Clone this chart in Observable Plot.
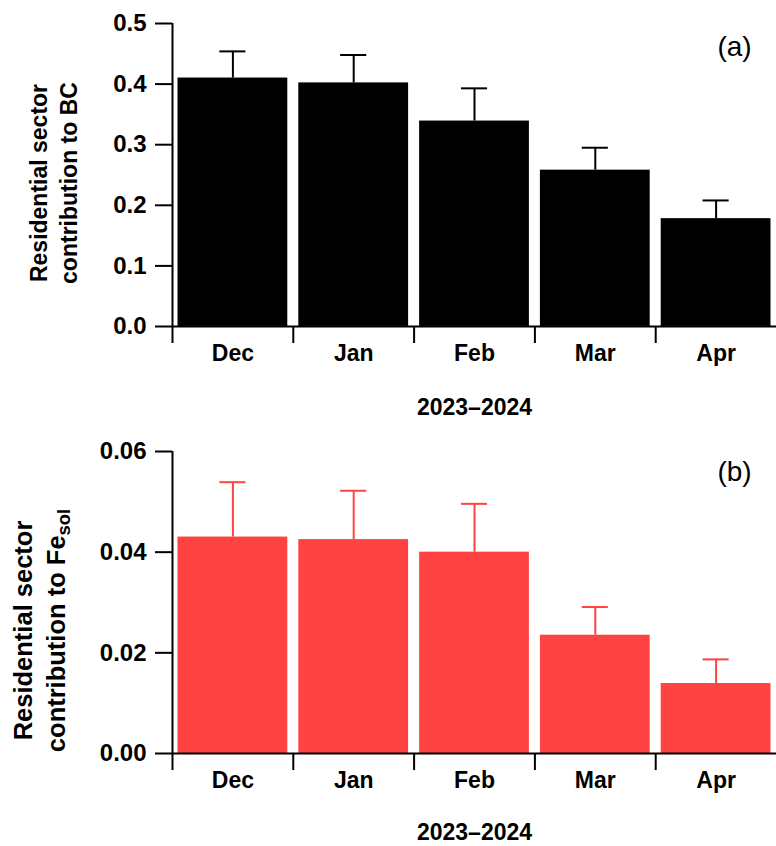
<!DOCTYPE html>
<html><head><meta charset="utf-8">
<script src="https://cdn.jsdelivr.net/npm/d3@7"></script>
<script src="https://cdn.jsdelivr.net/npm/@observablehq/plot@0.6"></script>
<style>body{margin:0;background:#fff} #chart svg{display:block}</style>
</head><body><div id="chart"></div>
<script>
const months = ["Dec", "Jan", "Feb", "Mar", "Apr"];
const bcMean = [0.410, 0.402, 0.339, 0.258, 0.178];
const bcErr = [0.044, 0.046, 0.054, 0.037, 0.030];
const feMean = [0.0430, 0.0425, 0.0400, 0.0235, 0.0139];
const feErr = [0.0109, 0.0097, 0.0096, 0.0056, 0.0048];
const bcTicks = [0, 0.1, 0.2, 0.3, 0.4, 0.5];
const feTicks = [0, 0.02, 0.04, 0.06];
const xTitle = "2023–2024";
const bcLabel = "Residential sector\ncontribution to BC";
const feLabel = "Residential sector\ncontribution to Fe";
const feSub = "sol";

const FONT = "'Liberation Sans', Arial, Helvetica, sans-serif";
const capHalf = 0.108;

function panel(o) {
  const data = months.map((m, i) => ({m, i, v: o.mean[i], e: o.err[i]}));
  return Plot.plot({
    width: 776, height: o.height,
    marginLeft: 172, marginRight: 0, marginTop: o.marginTop, marginBottom: o.marginBottom,
    style: {fontFamily: FONT, background: "white", overflow: "visible", color: "black"},
    x: {domain: [0, months.length], axis: null},
    y: {domain: [o.ticks[0], o.ticks[o.ticks.length - 1]], axis: null},
    marks: [
      Plot.rectY(data, {x1: "i", x2: d => d.i + 1, y: "v", fill: o.color, insetLeft: 5.5, insetRight: 5.5}),
      Plot.ruleX(data, {x: d => d.i + 0.5, y1: "v", y2: d => d.v + d.e, stroke: o.color, strokeWidth: 2}),
      Plot.ruleY(data, {y: d => d.v + d.e, x1: d => d.i + 0.5 - capHalf, x2: d => d.i + 0.5 + capHalf, stroke: o.color, strokeWidth: 2}),
      Plot.ruleY([o.ticks[0]], {stroke: "black", strokeWidth: 2}),
      Plot.ruleX([0], {stroke: "black", strokeWidth: 2}),
      Plot.axisY({ticks: o.ticks, tickFormat: d3.format(o.fmt), tickSize: 17, tickPadding: 9,
        fontSize: 24, fontWeight: "bold", strokeWidth: 2, label: null}),
      Plot.axisX({ticks: d3.range(months.length), tickFormat: () => "", tickSize: 17, strokeWidth: 2, label: null}),
      Plot.text(data, {x: d => d.i + 0.5, text: "m", frameAnchor: "bottom", dy: 27, lineAnchor: "middle",
        fontSize: 23, fontWeight: "bold"}),
      Plot.text([xTitle], {frameAnchor: "bottom", dy: o.titleDy, lineAnchor: "middle", fontSize: 23, fontWeight: "bold"}),
      Plot.text([o.tag], {frameAnchor: "top-right", dx: -42, dy: o.tagDy, textAnchor: "middle", lineAnchor: "middle", fontSize: 28}),
      Plot.text([o.ylabel], {frameAnchor: "left", dx: o.labelDx, dy: o.labelDy, rotate: -90, textAnchor: "middle",
        lineAnchor: "middle", lineHeight: 1.3, fontSize: o.labelSize, fontWeight: "bold", className: "ylab"})
    ]
  });
}

const chart = document.getElementById("chart");
chart.append(panel({mean: bcMean, err: bcErr, ticks: bcTicks, fmt: ".1f", color: "black", tag: "(a)",
  ylabel: bcLabel, height: 423, marginTop: 23, marginBottom: 97, titleDy: 81, tagDy: 24,
  labelDx: -120, labelDy: 8, labelSize: 23}));
const pb = panel({mean: feMean, err: feErr, ticks: feTicks, fmt: ".2f", color: "#ff4242", tag: "(b)",
  ylabel: feLabel, height: 423, marginTop: 28, marginBottom: 93, titleDy: 79, tagDy: 21,
  labelDx: -135, labelDy: 28, labelSize: 25.5});
chart.append(pb);
// subscript "sol"
d3.select(pb).selectAll("tspan").each(function() {
  if (this.textContent === "contribution to Fe") {
    d3.select(this).append("tspan").attr("dy", "0.3em").attr("font-size", "0.72em").text(feSub);
  }
});
</script></body></html>
